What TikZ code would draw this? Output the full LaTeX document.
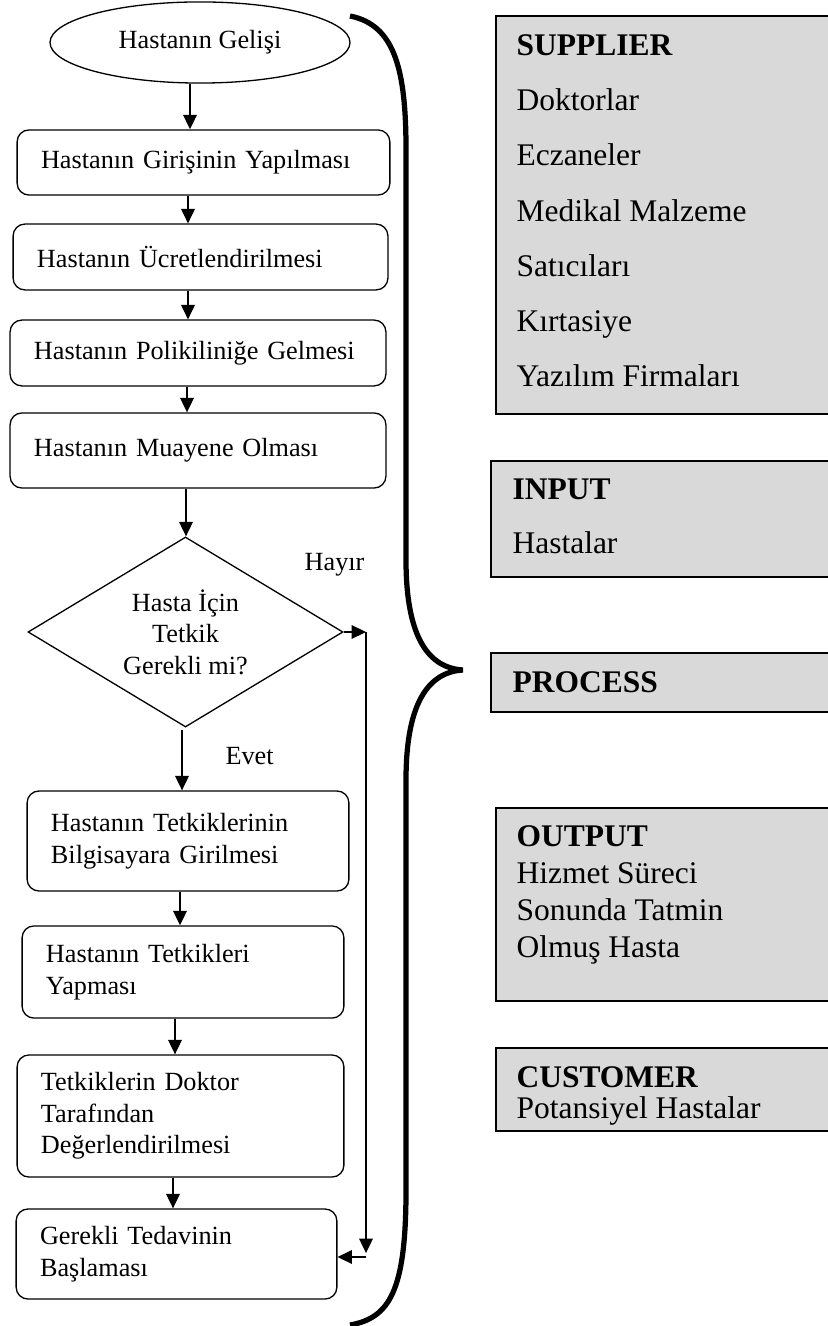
\documentclass[tikz,border=0pt]{standalone}
\usepackage{fontspec}
\setmainfont{Liberation Serif}
\usetikzlibrary{shapes.geometric,arrows.meta}
\definecolor{boxgray}{HTML}{D9D9D9}

\begin{document}
\begin{tikzpicture}[x=0.381pt, y=-0.381pt,
 every node/.style={font=\fontsize{10}{12}\selectfont},
 stepbox/.style={draw, line width=0.5pt, rounded corners=4.5pt, align=left, inner xsep=9.1pt, inner ysep=0pt},
 arr/.style={-{Triangle[length=5.5pt,width=5.2pt]}, line width=0.5pt},
 graybox/.style={draw, fill=boxgray, line width=0.75pt, anchor=north west, minimum width=140pt, inner sep=0pt},
 boxtxt/.style={anchor=base west, align=left, inner sep=0pt, font=\fontsize{12}{#1}\selectfont}]

\useasboundingbox (0,0) rectangle (827,1326);

% flow chart
\node[draw, ellipse, line width=0.5pt, inner sep=0pt, minimum width=114.3pt, minimum height=30.9pt] (ell) at (200,42.5) {Hastanın Gelişi};
\node[stepbox, text width=123.8pt, minimum height=24.8pt] (b1) at (203.5,162.5) {Hastanın Girişinin Yapılması};
\node[stepbox, text width=124.6pt, minimum height=25.1pt] (b2) at (200.5,257) {Hastanın Ücretlendirilmesi};
\node[stepbox, text width=125pt, minimum height=25.1pt] (b3) at (198,353) {Hastanın Polikiliniğe Gelmesi};
\node[stepbox, text width=125pt, minimum height=28.6pt] (b4) at (198,450.5) {Hastanın Muayene Olması};
\node[draw, diamond, line width=0.5pt, aspect=1.66, inner sep=0pt, minimum width=120pt, minimum height=72.4pt, align=center] (dec) at (185.5,632) {Hasta İçin\\Tetkik\\Gerekli mi?};
\node[stepbox, text width=104.4pt, minimum height=38.1pt] (b5) at (188,841) {Hastanın Tetkiklerinin\\Bilgisayara Girilmesi};
\node[stepbox, text width=104.4pt, minimum height=35.1pt] (b6) at (183,972) {Hastanın Tetkikleri\\Yapması};
\node[stepbox, text width=106.3pt, minimum height=46.5pt] (b7) at (180.5,1116) {Tetkiklerin Doktor\\Tarafından\\Değerlendirilmesi};
\node[stepbox, text width=104pt, minimum height=34.3pt] (b8) at (176.5,1254) {Gerekli Tedavinin\\Başlaması};

\node[anchor=base east, inner sep=0pt] (hayir) at (365,570) {Hayır};
\node[anchor=base west, inner sep=0pt] (evet) at (225,764) {Evet};
\coordinate (nr) at (366,632);
\coordinate (nb) at (366,1257);

\draw[arr] (ell.south -| 190,0) -- (b1.north -| 190,0);
\draw[arr] (b1.south -| 188,0) -- (b2.north -| 188,0);
\draw[arr] (b2.south -| 188,0) -- (b3.north -| 188,0);
\draw[arr] (b3.south -| 187,0) -- (b4.north -| 187,0);
\draw[arr] (b4.south -| 186,0) -- (dec.north -| 186,0);
\draw[arr] ([yshift=-1pt]dec.south -| 182,0) -- (b5.north -| 182,0);
\draw[arr] (b5.south -| 180,0) -- (b6.north -| 180,0);
\draw[arr] (b6.south -| 175,0) -- (b7.north -| 175,0);
\draw[arr] (b7.south -| 173,0) -- (b8.north -| 173,0);
\draw[arr] (dec.east) -- (nr);
\draw[arr, shorten >=1.5pt] (nr) -- (nb);
\draw[arr] (nb) -- (nb -| b8.east);

% brace
\draw[line width=2pt] (350,16) .. controls (395,25) and (406,70) .. (406,150) -- (406,560)
  .. controls (406,640) and (430,668) .. (463,670) .. controls (430,672) and (406,700) .. (406,780)
  -- (406,1190) .. controls (406,1290) and (390,1318) .. (350,1325);

% SIPOC boxes (text nodes sit on their last line)
\node[graybox, minimum height=151.6pt] (sup) at (495,15) {};
\node[graybox, minimum height=44.2pt] (inp) at (490,460) {};
\node[graybox, minimum height=22.5pt] (proc) at (490,652) {};
\node[graybox, minimum height=73.5pt] (out) at (495,807) {};
\node[graybox, minimum height=31.6pt] (cus) at (495,1047) {};

\node[boxtxt=21.07pt] (suptxt) at (516,387) {\textbf{SUPPLIER}\\Doktorlar\\Eczaneler\\Medikal Malzeme\\Satıcıları\\Kırtasiye\\Yazılım Firmaları};
\node[boxtxt=20.2pt] (inptxt) at (512,553) {\textbf{INPUT}\\Hastalar};
\node[boxtxt=14pt] (proctxt) at (512,692) {\textbf{PROCESS}};
\node[boxtxt=14pt] (outtxt) at (516,957) {\textbf{OUTPUT}\\Hizmet Süreci\\Sonunda Tatmin\\Olmuş Hasta};
\node[boxtxt=11.8pt] (custxt) at (516,1118) {\textbf{CUSTOMER}\\Potansiyel Hastalar};
\end{tikzpicture}
\end{document}
